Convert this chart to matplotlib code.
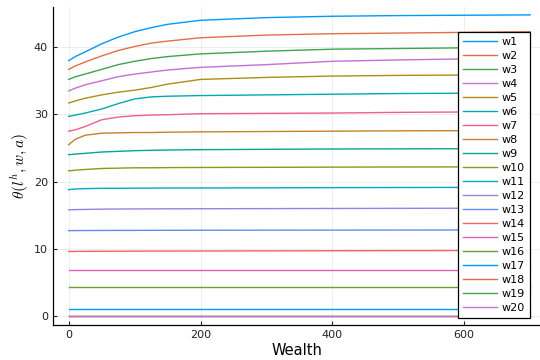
import matplotlib
matplotlib.use("Agg")
import matplotlib.pyplot as plt

plt.rcParams['mathtext.fontset'] = 'cm'
plt.rcParams['font.family'] = ['DejaVu Sans']

wealth = [0, 10, 25, 50, 75, 100, 125, 150, 200, 300, 400, 500, 700]

w1 = [38.0, 38.6, 39.3, 40.5, 41.5, 42.3, 42.9, 43.4, 44.0, 44.4, 44.6, 44.7, 44.8]
w2 = [36.7, 37.2, 37.8, 38.7, 39.5, 40.1, 40.6, 40.9, 41.4, 41.8, 42.0, 42.1, 42.3]
w3 = [35.2, 35.6, 36.0, 36.7, 37.4, 37.9, 38.3, 38.6, 39.0, 39.4, 39.7, 39.8, 40.0]
w4 = [33.5, 33.9, 34.4, 35.0, 35.6, 36.0, 36.3, 36.6, 37.0, 37.4, 37.9, 38.1, 38.4]
w5 = [31.7, 32.0, 32.4, 32.9, 33.3, 33.6, 34.0, 34.5, 35.2, 35.5, 35.7, 35.8, 35.9]
w6 = [29.7, 29.9, 30.2, 30.8, 31.6, 32.3, 32.6, 32.7, 32.8, 32.9, 33.0, 33.1, 33.2]
w7 = [27.5, 27.7, 28.2, 29.2, 29.6, 29.8, 29.9, 29.95, 30.1, 30.15, 30.2, 30.3, 30.4]
w8 = [25.5, 26.3, 26.9, 27.2, 27.25, 27.3, 27.3, 27.35, 27.4, 27.45, 27.5, 27.55, 27.6]
w9 = [24.0, 24.1, 24.2, 24.4, 24.5, 24.6, 24.65, 24.7, 24.75, 24.8, 24.85, 24.87, 24.9]
w10 = [21.6, 21.7, 21.8, 21.95, 22.0, 22.05, 22.05, 22.08, 22.1, 22.12, 22.15, 22.17, 22.2]
w11 = [18.8, 18.9, 18.95, 19.0, 19.0, 19.02, 19.03, 19.04, 19.05, 19.07, 19.1, 19.12, 19.15]
w12 = [15.8, 15.83, 15.86, 15.9, 15.92, 15.93, 15.94, 15.95, 15.96, 15.98, 16.0, 16.02, 16.05]
w13 = [12.7, 12.71, 12.72, 12.73, 12.74, 12.74, 12.75, 12.75, 12.76, 12.77, 12.78, 12.79, 12.8]
w14 = [9.6, 9.61, 9.62, 9.63, 9.64, 9.65, 9.66, 9.66, 9.67, 9.69, 9.71, 9.73, 9.75]
w15 = [6.8] * 13
w16 = [4.35] * 13
w17 = [1.1] * 13
w18 = [0.0] * 13
w19 = [0.0] * 13
w20 = [0.0] * 13

series = [w1, w2, w3, w4, w5, w6, w7, w8, w9, w10,
          w11, w12, w13, w14, w15, w16, w17, w18, w19, w20]
labels = [f"w{i}" for i in range(1, 21)]

palette = ["#009AFA", "#E36F47", "#3EA44E", "#C371D2", "#AC8E18", "#00AAAE",
           "#ED5E93", "#C68225", "#00A98D", "#8E971D", "#00A8CB", "#9B7FE9",
           "#618CF6", "#F66164", "#DD64B4", "#6C9E33"]

fig = plt.figure(figsize=(5.4, 3.6), dpi=100)
ax = fig.add_axes([0.098, 0.097, 0.902, 0.884])

for i, (s, lab) in enumerate(zip(series, labels)):
    ax.plot(wealth, s, color=palette[i % len(palette)], lw=1.0, label=lab)

ax.set_xlim(-24, 715)
ax.set_ylim(-1.35, 46.0)
ax.set_xticks([0, 200, 400, 600])
ax.set_yticks([0, 10, 20, 30, 40])
ax.grid(True, color="black", alpha=0.08, lw=0.6)
ax.tick_params(direction="in", length=3, labelsize=8, colors="#222222", width=0.8)
for side in ["top", "right"]:
    ax.spines[side].set_visible(False)
for side in ["left", "bottom"]:
    ax.spines[side].set_color("black")
    ax.spines[side].set_linewidth(0.9)

ax.set_xlabel("Wealth", fontsize=10.5, labelpad=2)
ax.set_ylabel(r"$\theta(l^h, w, a)$", fontsize=11, labelpad=2)

leg = ax.legend(loc="upper right", bbox_to_anchor=(0.979, 0.921), borderaxespad=0,
                fontsize=8, handlelength=3.0, handletextpad=0.45, labelspacing=0.36,
                borderpad=0.45, fancybox=False, framealpha=1, edgecolor="black")
leg.get_frame().set_linewidth(0.9)

fig.savefig("out.png", dpi=100)
